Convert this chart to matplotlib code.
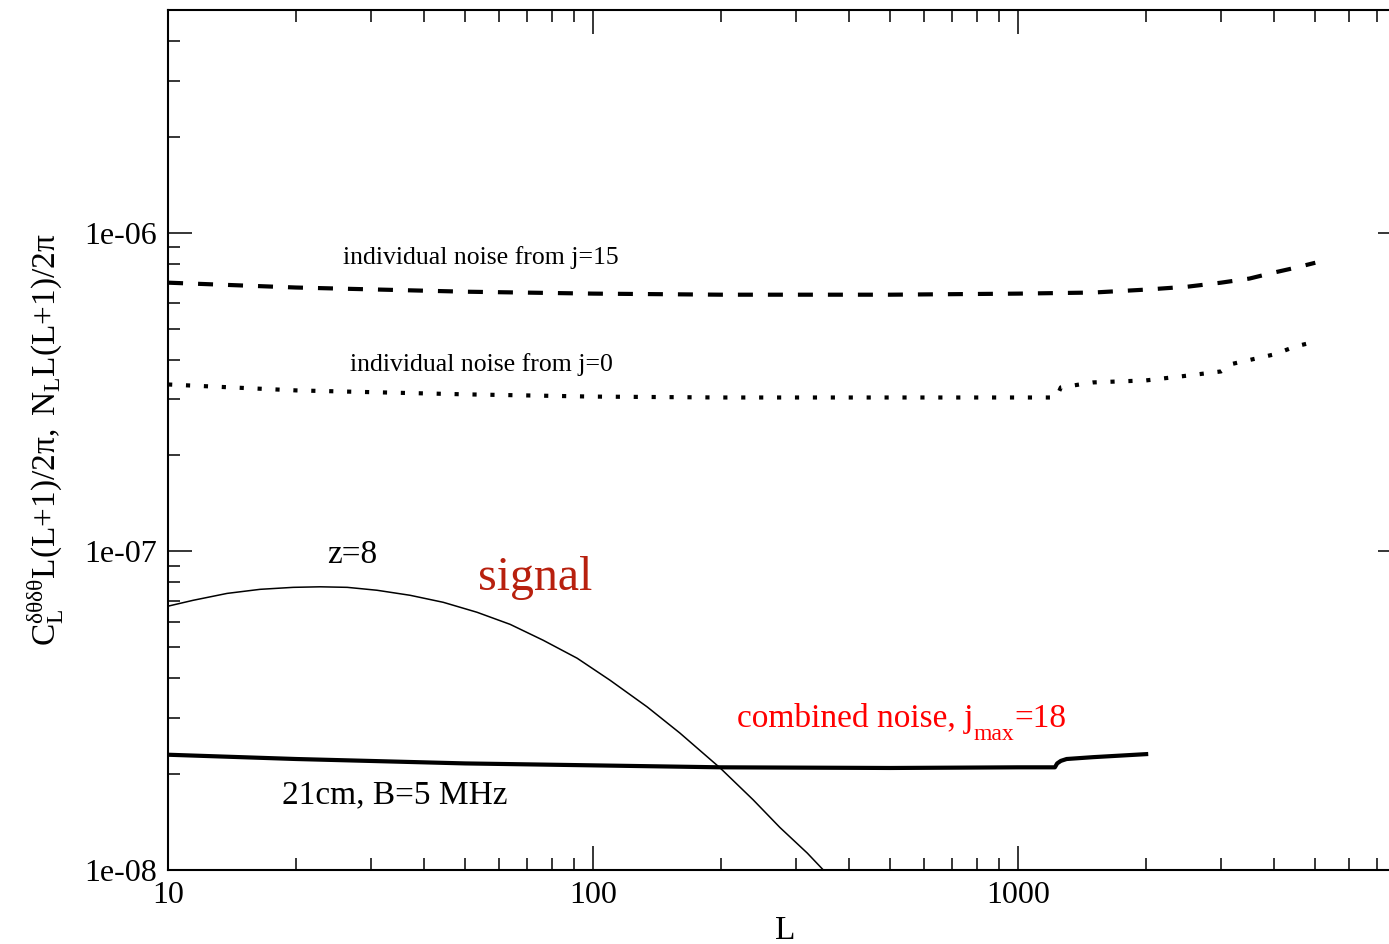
import numpy as np
import matplotlib
matplotlib.use("Agg")
import matplotlib.pyplot as plt
from matplotlib.transforms import offset_copy

plt.rcParams['font.family'] = ['Liberation Serif', 'DejaVu Serif']
plt.rcParams['mathtext.fontset'] = 'custom'
plt.rcParams['mathtext.rm'] = 'Liberation Serif'
plt.rcParams['mathtext.it'] = 'Liberation Serif:italic'

# signal, z=8
L_sig = [10, 11.45, 13.77, 16.46, 19.7, 22.8, 26.4, 31.0, 37.1, 44.4, 53.3, 63.8,
         76.3, 91.7, 109.6, 134, 160, 199, 238, 275, 319, 348, 360]
C_sig = [6.73e-8, 7.02e-8, 7.38e-8, 7.60e-8, 7.71e-8, 7.74e-8, 7.71e-8, 7.55e-8,
         7.28e-8, 6.92e-8, 6.44e-8, 5.90e-8, 5.26e-8, 4.62e-8, 3.94e-8, 3.25e-8,
         2.69e-8, 2.09e-8, 1.66e-8, 1.36e-8, 1.13e-8, 1.0e-8, 9.5e-9]

# individual noise from j=15
L_j15 = [10, 20, 50, 100, 200, 500, 1000, 1500, 2000, 2500, 3000, 3500, 4000, 4500, 5000]
N_j15 = [6.97e-7, 6.73e-7, 6.53e-7, 6.44e-7, 6.39e-7, 6.39e-7, 6.44e-7, 6.49e-7,
         6.63e-7, 6.77e-7, 6.97e-7, 7.18e-7, 7.50e-7, 7.77e-7, 8.05e-7]

# individual noise from j=0
L_j0 = [10, 20, 50, 100, 200, 500, 1000, 1230, 1260, 1500, 2000, 2500, 3000, 3200,
        4000, 4500, 5000]
N_j0 = [3.34e-7, 3.20e-7, 3.11e-7, 3.06e-7, 3.04e-7, 3.04e-7, 3.04e-7, 3.04e-7,
        3.27e-7, 3.39e-7, 3.44e-7, 3.56e-7, 3.67e-7, 3.88e-7, 4.15e-7, 4.40e-7, 4.55e-7]

# combined noise, jmax=18
L_comb = [10, 20, 50, 100, 200, 500, 1000, 1220, 1235, 1260, 1300, 1500, 2000]
N_comb = [2.30e-8, 2.23e-8, 2.16e-8, 2.13e-8, 2.10e-8, 2.09e-8, 2.10e-8, 2.10e-8,
          2.16e-8, 2.20e-8, 2.23e-8, 2.26e-8, 2.31e-8]

fig = plt.figure(figsize=(13.89, 9.44), dpi=100)
ax = fig.add_axes([0.121, 0.0784, 1.0094 - 0.121, 0.9894 - 0.0784])

ax.plot(L_sig, C_sig, color='black', lw=1.1)
ax.plot(L_j15, N_j15, color='black', lw=3, linestyle=(0, (3.6, 3.6)), dash_capstyle='butt')
ax.plot(L_j0, N_j0, color='black', lw=3, linestyle=(0, (1, 3.3)), dash_capstyle='butt')
ax.plot(L_comb, N_comb, color='black', lw=3)

ax.set_xscale('log')
ax.set_yscale('log')
ax.set_xlim(10, 8000)
ax.set_ylim(1e-8, 5e-6)

ax.set_xticks([10, 100, 1000])
ax.set_xticklabels(['10', '100', '1000'])
ax.set_yticks([1e-8, 1e-7, 1e-6])
ax.set_yticklabels(['1e-08', '1e-07', '1e-06'])
ax.tick_params(which='both', direction='in', top=True, right=True, width=1.1)
ax.tick_params(which='major', length=17, labelsize=23)
ax.tick_params(axis='y', which='major', pad=8)
ax.tick_params(axis='x', which='major', pad=8)
ax.tick_params(which='minor', length=8.6, labelleft=False, labelbottom=False)
for s in ax.spines.values():
    s.set_linewidth(1.5)

ax.set_xlabel('L', fontsize=24)
ax.xaxis.set_label_coords(0.5, -0.053)
ax.set_ylabel(r'$\mathrm{C}_{\mathrm{L}}^{\mathrm{\delta\theta\delta\theta}}'
              r'\mathrm{L(L{+}1)/2\pi,\ N_{L}L(L{+}1)/2\pi}$', fontsize=24)
ax.yaxis.set_label_coords(-0.083, 0.5)

ax.text(25.8, 8.0e-7, 'individual noise from j=15', fontsize=18.5, va='baseline')
ax.text(26.8, 3.69e-7, 'individual noise from j=0', fontsize=18.5, va='baseline')
ax.text(23.7, 9.17e-8, 'z=8', fontsize=24, va='baseline')
ax.text(53.6, 7.55e-8, 'signal', fontsize=34.5, va='baseline', color='#b8200e')
ax.text(18.5, 1.62e-8, '21cm, B=5 MHz', fontsize=24, va='baseline')

# combined noise label, built from pieces so the subscript drops like the original
red = '#ff0000'
t1 = ax.text(218, 2.81e-8, 'combined noise, j', fontsize=24, va='baseline', color=red)
fig.canvas.draw()
r = fig.canvas.get_renderer()
w1 = t1.get_window_extent(r).width * 72 / fig.dpi
tr2 = offset_copy(ax.transData, fig=fig, x=w1, y=-9, units='points')
t2 = ax.text(218, 2.81e-8, 'max', fontsize=17, va='baseline', color=red, transform=tr2)
w2 = t2.get_window_extent(r).width * 72 / fig.dpi
tr3 = offset_copy(ax.transData, fig=fig, x=w1 + w2, y=0, units='points')
ax.text(218, 2.81e-8, '=18', fontsize=24, va='baseline', color=red, transform=tr3)

fig.savefig('out.png', dpi=100)
